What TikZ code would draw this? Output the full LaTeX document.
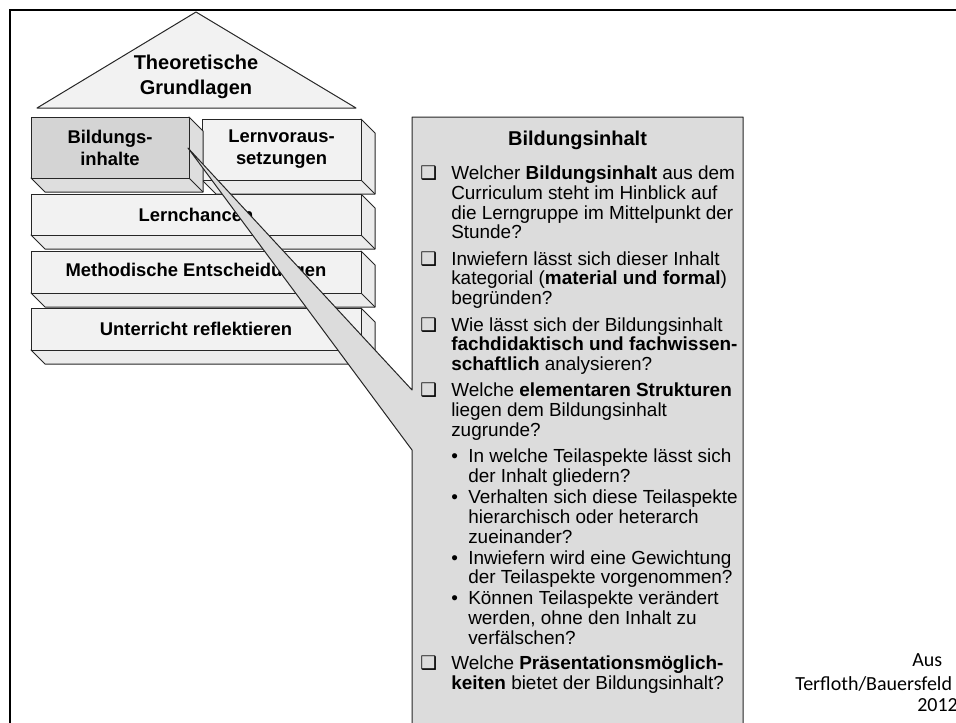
\documentclass[tikz,border=0pt]{standalone}
\usepackage{fontspec}
\setmainfont{Liberation Sans}
\newfontfamily\carlito{Carlito}
\newfontfamily\dejavu{DejaVu Sans}
\usetikzlibrary{positioning}
\definecolor{slabfront}{RGB}{242,242,242}
\definecolor{slabside}{RGB}{236,236,236}
\definecolor{keyfront}{RGB}{212,212,212}
\definecolor{keyside}{RGB}{222,222,222}
\definecolor{calloutfill}{RGB}{220,220,220}
\tikzset{%
	slab/.style      = {draw=black!85, line width=0.75pt, line join=round},
	slabtext/.style  = {font=\bfseries\fontsize{13.8}{16.5}\selectfont, align=center},
	rooftext/.style  = {font=\bfseries\fontsize{15}{18.5}\selectfont, align=center},
	qtext/.style     = {font=\fontsize{14.2}{14.8}\selectfont, align=left, inner sep=0pt},
	credit/.style    = {font=\carlito\fontsize{15}{17}\selectfont, inner sep=0pt},
}
% one 3D slab: top left, bottom right, front colour, side colour
\newcommand{\drawslab}[6]{%
	\draw[slab,fill=#6] (#3,#2) -- (#3+14,#2+14) -- (#3+14,#4+14) -- (#1+14,#4+14) -- (#1,#4) -- (#3,#4) -- cycle;
	\draw[slab,fill=#5] (#1,#2) rectangle (#3,#4);
	\draw[slab] (#3,#4) -- (#3+14,#4+14);
}
\newcommand{\qbox}{\makebox[23.25pt][l]{{\dejavu\fontsize{14}{14}\selectfont ❑}}}
\newcommand{\qind}{\hspace*{23.25pt}}
\newcommand{\qbul}{\hspace*{23.25pt}\makebox[12.75pt][l]{•}}
\newcommand{\qbind}{\hspace*{36pt}}

\begin{document}
\begin{tikzpicture}[x=0.75pt,y=-0.75pt]
	\useasboundingbox (0,0) rectangle (956,722);
	\clip (0,0) rectangle (956,722);
	\draw[line width=1.8pt] (10,740) -- (10,10) -- (970,10);  % frame
	% roof
	\draw[slab,fill=slabfront] (37,108) -- (196,12) -- (356,108) -- cycle;
	\node[rooftext] (grundlagen) at (196,77) {Theoretische\\Grundlagen};
	% slabs
	\drawslab{31}{308}{361}{350}{slabfront}{slabside}
	\drawslab{31}{251}{361}{293}{slabfront}{slabside}
	\drawslab{31}{194}{361}{235}{slabfront}{slabside}
	\drawslab{202}{119}{361}{180}{slabfront}{slabside}
	\drawslab{31}{117}{189}{178}{keyfront}{keyside}
	\node[slabtext] (bildung) at (110,147.5) {Bildungs-\\inhalte};
	\node[slabtext] (lernvor) at (281.5,149.5) {Lernvoraus-\\setzungen};
	\node[slabtext] (chancen) at (196,214.5) {Lernchancen};
	\node[slabtext] (methodik) at (196,272) {Methodische Entscheidungen};
	\node[slabtext] (reflexion) at (196,329) {Unterricht reflektieren};
	% callout
	\draw[slab,fill=calloutfill] (412,117) -- (743,117) -- (743,740) -- (412,740) -- (412,450) -- (188,148) -- (412,390) -- cycle;
	\node[font=\bfseries\fontsize{15}{15}\selectfont, anchor=base] (kopf) at (577.5,145) {Bildungsinhalt};
	\node[qtext, anchor=north west] (fragen) at (420,165.5) {%
		\strut\qbox Welcher \textbf{Bildungsinhalt} aus dem\\
		\qind Curriculum steht im Hinblick auf\\
		\qind die Lerngruppe im Mittelpunkt der\\
		\qind Stunde?\\[5pt]
		\qbox Inwiefern lässt sich dieser Inhalt\\
		\qind kategorial (\textbf{material und formal})\\
		\qind begründen?\\[5pt]
		\qbox Wie lässt sich der Bildungsinhalt\\
		\qind \textbf{fachdidaktisch und fachwissen-}\\
		\qind \textbf{schaftlich} analysieren?\\[5pt]
		\qbox Welche \textbf{elementaren Strukturen}\\
		\qind liegen dem Bildungsinhalt\\
		\qind zugrunde?\\[5pt]
		\qbul In welche Teilaspekte lässt sich\\
		\qbind der Inhalt gliedern?\\[1pt]
		\qbul Verhalten sich diese Teilaspekte\\
		\qbind hierarchisch oder heterarch\\
		\qbind zueinander?\\[1pt]
		\qbul Inwiefern wird eine Gewichtung\\
		\qbind der Teilaspekte vorgenommen?\\[1pt]
		\qbul Können Teilaspekte verändert\\
		\qbind werden, ohne den Inhalt zu\\
		\qbind verfälschen?\\[4pt]
		\qbox Welche \textbf{Präsentationsmöglich-}\\
		\qind \textbf{keiten} bietet der Bildungsinhalt?};
	% source
	\node[credit, anchor=base west] (quelleA) at (912,666) {Aus};
	\node[credit, anchor=base west] (quelleB) at (795,690) {Terfloth/Bauersfeld};
	\node[credit, anchor=base west] (quelleC) at (917,711) {2012};
\end{tikzpicture}
\end{document}
